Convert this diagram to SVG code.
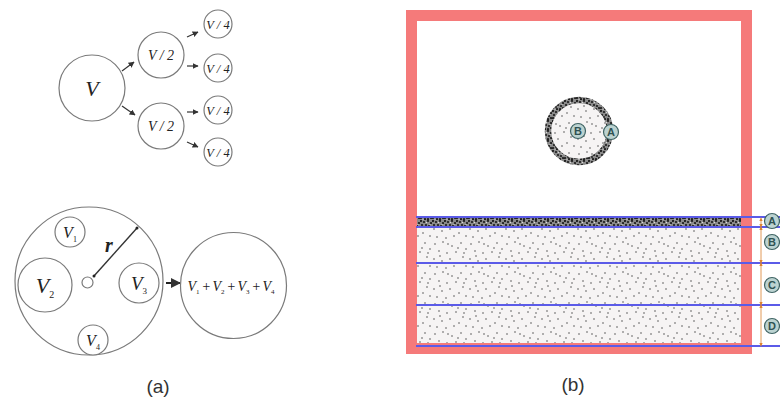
<svg xmlns="http://www.w3.org/2000/svg" width="780" height="405" viewBox="0 0 780 405">
<style>
.c{fill:#fff;stroke:#7a7a7a;stroke-width:1.2}
.t{font-family:"Liberation Serif",serif;font-style:italic;fill:#222;text-anchor:middle}
.t tspan.s{font-style:normal}
.cap{font-family:"Liberation Sans",Arial,sans-serif;font-size:19px;fill:#333;text-anchor:middle}
.ar{stroke:#333;stroke-width:1.2;fill:none;marker-end:url(#ah)}
.bl{stroke:#5b5be8;stroke-width:2}
.lab circle{fill:#bcd3d1;stroke:#3f6464;stroke-width:1.2}
.lab text{font-family:"Liberation Sans",Arial,sans-serif;font-weight:bold;font-size:11px;fill:#2f5252;text-anchor:middle}
.dim{stroke:#e29a58;stroke-width:1;marker-start:url(#oa);marker-end:url(#oa)}
</style>
<defs>
<marker id="ah" viewBox="0 0 10 10" refX="9" refY="5" markerWidth="5" markerHeight="5" orient="auto"><path d="M0,0L10,5L0,10z" fill="#333"/></marker>
<marker id="oa" viewBox="0 0 10 10" refX="5" refY="5" markerWidth="4" markerHeight="4" orient="auto-start-reverse"><path d="M0,1L10,5L0,9z" fill="#e0852f"/></marker>
<pattern id="sparse" width="36" height="30" patternUnits="userSpaceOnUse">
<rect width="36" height="30" fill="#f6f4f4"/>
<g fill="#555">
<circle cx="3" cy="4" r="0.8"/><circle cx="11" cy="2" r="0.8"/><circle cx="20" cy="6" r="0.8"/><circle cx="29" cy="3" r="0.8"/><circle cx="34" cy="9" r="0.8"/><circle cx="7" cy="11" r="0.8"/><circle cx="15" cy="13" r="0.8"/><circle cx="24" cy="12" r="0.8"/><circle cx="31" cy="17" r="0.8"/><circle cx="2" cy="19" r="0.8"/><circle cx="10" cy="21" r="0.8"/><circle cx="18" cy="19" r="0.8"/><circle cx="27" cy="23" r="0.8"/><circle cx="34" cy="26" r="0.8"/><circle cx="5" cy="27" r="0.8"/><circle cx="14" cy="28" r="0.8"/><circle cx="22" cy="26" r="0.8"/><circle cx="8" cy="16" r="0.8"/><circle cx="26" cy="8" r="0.8"/><circle cx="16" cy="4" r="0.8"/><circle cx="32" cy="13" r="0.8"/>
</g>
</pattern>
<pattern id="dense" width="12" height="10" patternUnits="userSpaceOnUse">
<rect width="12" height="10" fill="#8a8a8a"/>
<g fill="#1a1a1a">
<circle cx="1" cy="1" r="1.1"/><circle cx="4" cy="2" r="1.1"/><circle cx="8" cy="1" r="1.1"/><circle cx="11" cy="3" r="1.1"/><circle cx="2" cy="5" r="1.1"/><circle cx="6" cy="5" r="1.1"/><circle cx="9" cy="6" r="1.1"/><circle cx="1" cy="8" r="1.1"/><circle cx="5" cy="9" r="1.1"/><circle cx="8" cy="9" r="1.1"/><circle cx="11" cy="8" r="1.1"/><circle cx="4" cy="7" r="0.9"/>
</g>
<g fill="#e8e8e8"><circle cx="6.5" cy="2.5" r="0.6"/><circle cx="10" cy="4.5" r="0.5"/><circle cx="3" cy="9.5" r="0.5"/></g>
</pattern>
</defs>
<rect width="780" height="405" fill="#fff"/>

<!-- (a) top tree -->
<g id="nodeV"><circle class="c" cx="92" cy="88" r="33"/><text class="t" x="92" y="96" font-size="22">V</text></g>
<g id="nodeV2a"><circle class="c" cx="161" cy="55" r="23"/><text class="t" x="161" y="60" font-size="14">V / 2</text></g>
<g id="nodeV2b"><circle class="c" cx="161" cy="126" r="23"/><text class="t" x="161" y="131" font-size="14">V / 2</text></g>
<g id="nodeV4a"><circle class="c" cx="218" cy="24" r="14"/><text class="t" x="218" y="28.5" font-size="12.5">V / 4</text></g>
<g id="nodeV4b"><circle class="c" cx="218" cy="68" r="14"/><text class="t" x="218" y="72.5" font-size="12.5">V / 4</text></g>
<g id="nodeV4c"><circle class="c" cx="218" cy="110" r="14"/><text class="t" x="218" y="114.5" font-size="12.5">V / 4</text></g>
<g id="nodeV4d"><circle class="c" cx="218" cy="152" r="14"/><text class="t" x="218" y="156.5" font-size="12.5">V / 4</text></g>
<g id="connectors">
<line class="ar" x1="122" y1="71" x2="134" y2="62"/>
<line class="ar" x1="122" y1="106" x2="135" y2="115"/>
<line class="ar" x1="187" y1="37" x2="198" y2="32"/>
<line class="ar" x1="187" y1="66" x2="198" y2="66"/>
<line class="ar" x1="187" y1="112" x2="198" y2="112"/>
<line class="ar" x1="187" y1="142" x2="198" y2="147"/>
<line x1="166" y1="283" x2="180" y2="283" stroke="#222" stroke-width="2" marker-end="url(#ah)"/>
</g>

<!-- (a) bottom -->
<g id="bigCircle">
<circle class="c" cx="89" cy="281" r="74"/>
<circle class="c" cx="87.5" cy="282.5" r="5.5"/>
<line x1="94" y1="276" x2="137" y2="228" stroke="#333" stroke-width="1.4"/>
<circle cx="94" cy="276" r="1.5" fill="#222"/><circle cx="137" cy="228" r="1.5" fill="#222"/>
<text x="109" y="252" font-family="Liberation Serif,serif" font-style="italic" font-weight="bold" font-size="20" fill="#222" text-anchor="middle">r</text>
</g>
<g id="nodeV1"><circle class="c" cx="70" cy="232" r="15"/><text class="t" x="70" y="238" font-size="16">V<tspan class="s" font-size="8" dy="4">1</tspan></text></g>
<g id="nodeV2"><circle class="c" cx="45" cy="285" r="27"/><text class="t" x="45" y="293" font-size="22">V<tspan class="s" font-size="10" dy="5">2</tspan></text></g>
<g id="nodeV3"><circle class="c" cx="139" cy="283" r="20"/><text class="t" x="139" y="290" font-size="19">V<tspan class="s" font-size="9" dy="4">3</tspan></text></g>
<g id="nodeV4"><circle class="c" cx="93" cy="340" r="15"/><text class="t" x="93" y="346" font-size="16">V<tspan class="s" font-size="8" dy="4">4</tspan></text></g>
<g id="nodeSum"><circle class="c" cx="233.5" cy="285.5" r="53"/>
<text class="t" x="231" y="291" font-size="14">V<tspan class="s" font-size="7" dy="3">1</tspan><tspan dy="-3" dx="2">+</tspan><tspan dx="1.5">V</tspan><tspan class="s" font-size="7" dy="3">2</tspan><tspan dy="-3" dx="2">+</tspan><tspan dx="1.5">V</tspan><tspan class="s" font-size="7" dy="3">3</tspan><tspan dy="-3" dx="2">+</tspan><tspan dx="1.5">V</tspan><tspan class="s" font-size="7" dy="3">4</tspan></text></g>
<text class="cap" x="158" y="393">(a)</text>

<!-- (b) -->
<g id="frame">
<rect x="416" y="227" width="325" height="119" fill="url(#sparse)"/>
<rect x="416" y="217" width="325" height="10" fill="url(#dense)"/>
<rect x="411.5" y="15.5" width="335" height="333" fill="none" stroke="#f57a7a" stroke-width="11"/>
</g>
<g id="particle">
<circle cx="579" cy="131" r="28" fill="url(#sparse)"/>
<circle cx="579" cy="131" r="31" fill="none" stroke="url(#dense)" stroke-width="6.5"/>
</g>
<g id="layers">
<line class="bl" x1="416" y1="217" x2="780" y2="217"/>
<line class="bl" x1="416" y1="227" x2="780" y2="227"/>
<line class="bl" x1="416" y1="263" x2="780" y2="263"/>
<line class="bl" x1="416" y1="305" x2="780" y2="305"/>
<line class="bl" x1="416" y1="346" x2="780" y2="346"/>
</g>
<g id="dims">
<line class="dim" x1="761" y1="219" x2="761" y2="226"/>
<line class="dim" x1="761" y1="228" x2="761" y2="262"/>
<line class="dim" x1="761" y1="264" x2="761" y2="304"/>
<line class="dim" x1="761" y1="306" x2="761" y2="345"/>
</g>
<g id="labels" class="lab">
<g id="lblBin"><circle cx="578" cy="131" r="7.5"/><text x="578" y="135">B</text></g>
<g id="lblAin"><circle cx="611" cy="132" r="7.5"/><text x="611" y="136">A</text></g>
<g id="lblA"><circle cx="772" cy="221" r="7.5"/><text x="772" y="225">A</text></g>
<g id="lblB"><circle cx="772" cy="242" r="7.5"/><text x="772" y="246">B</text></g>
<g id="lblC"><circle cx="772" cy="285" r="7.5"/><text x="772" y="289">C</text></g>
<g id="lblD"><circle cx="772" cy="326" r="7.5"/><text x="772" y="330">D</text></g>
</g>
<text class="cap" x="573" y="391">(b)</text>
</svg>
